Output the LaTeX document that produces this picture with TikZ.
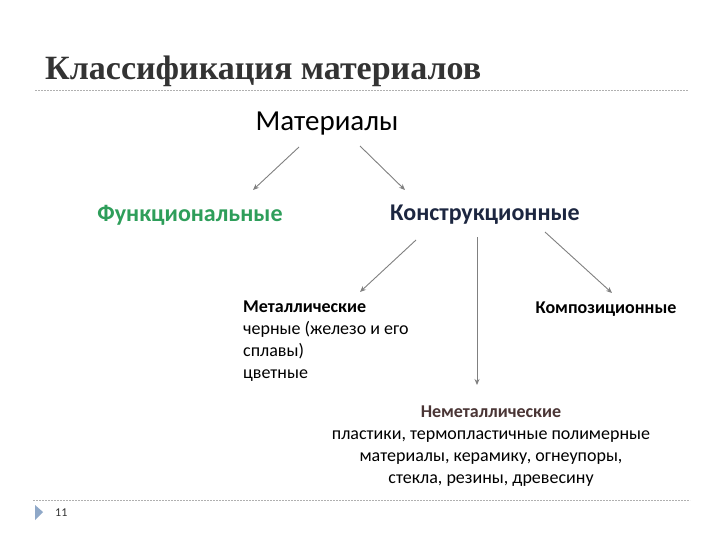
\documentclass[tikz,border=0pt]{standalone}
\usepackage{fontspec}
\setmainfont{Carlito}
\newfontfamily\titlefont{Liberation Serif}
\usetikzlibrary{arrows.meta}
\definecolor{titlegray}{HTML}{333333}
\definecolor{funcgreen}{HTML}{2E9E5A}
\definecolor{navy}{HTML}{1C2640}
\definecolor{brownish}{HTML}{4A3535}
\definecolor{arrowgray}{HTML}{808080}
\definecolor{rulegray}{HTML}{B0B0B0}
\definecolor{tribl}{HTML}{8FA8C8}
\tikzset{
  conn/.style={draw=arrowgray, line width=0.9pt, -{Stealth[length=6pt,width=5pt]}},
  rulerline/.style={draw=rulegray, line width=0.7pt, dash pattern=on 2pt off 1pt},
  lvl1/.style={font=\fontsize{24}{28}\selectfont\bfseries, inner sep=0pt},
  lvl2/.style={font=\fontsize{18}{22}\selectfont, inner sep=0pt},
}
\begin{document}
\begin{tikzpicture}[x=1pt,y=-1pt]
\useasboundingbox[fill=white] (0,0) rectangle (720,540);
% title
\node[anchor=base west, inner sep=0pt, text=titlegray, font=\titlefont\fontsize{34}{38}\selectfont\bfseries] (title) at (45,80) {Классификация материалов};
\coordinate (r1a) at (35,90);
\coordinate (r1b) at (688,90);
\draw[rulerline] (r1a) -- (r1b);
\coordinate (r2a) at (33,500);
\coordinate (r2b) at (690,500);
\draw[rulerline] (r2a) -- (r2b);
% page number
\fill[tribl] (35,505) -- (43,512) -- (35,520) -- cycle;
\node[anchor=west, inner sep=0pt, text=titlegray, font=\fontsize{12}{14}\selectfont] (pg) at (55,513) {11};
% nodes
\node[inner sep=2pt, font=\fontsize{29}{32}\selectfont] (mat) at (327,124) {Материалы};
\node[lvl1, text=funcgreen] (func) at (190,215) {Функциональные};
\node[lvl1, text=navy] (konstr) at (485,215) {Конструкционные};
\node[lvl2, anchor=north west, align=left] (metal) at (243,301) {\textbf{Металлические}\\черные (железо и его\\сплавы)\\цветные};
\node[lvl2, anchor=base, font=\fontsize{18}{22}\selectfont\bfseries] (komp) at (606,313) {Композиционные};
\node[lvl2, anchor=north, align=center] (nemet) at (491,406) {\textcolor{brownish}{\textbf{Неметаллические}}\\пластики, термопластичные полимерные\\материалы, керамику, огнеупоры,\\стекла, резины, древесину};
% connectors
\coordinate (a1s) at (299,147);
\coordinate (a1e) at (253,190);
\coordinate (a2s) at (360,146);
\coordinate (a2e) at (405,190);
\coordinate (b1s) at (416,240);
\coordinate (b1e) at (360,292);
\coordinate (b2s) at (477,237);
\coordinate (b2e) at (477,385);
\coordinate (b3s) at (545,232);
\coordinate (b3e) at (612,293);
\draw[conn] (a1s) -- (a1e);
\draw[conn] (a2s) -- (a2e);
\draw[conn] (b1s) -- (b1e);
\draw[conn] (b2s) -- (b2e);
\draw[conn] (b3s) -- (b3e);
\end{tikzpicture}
\end{document}
